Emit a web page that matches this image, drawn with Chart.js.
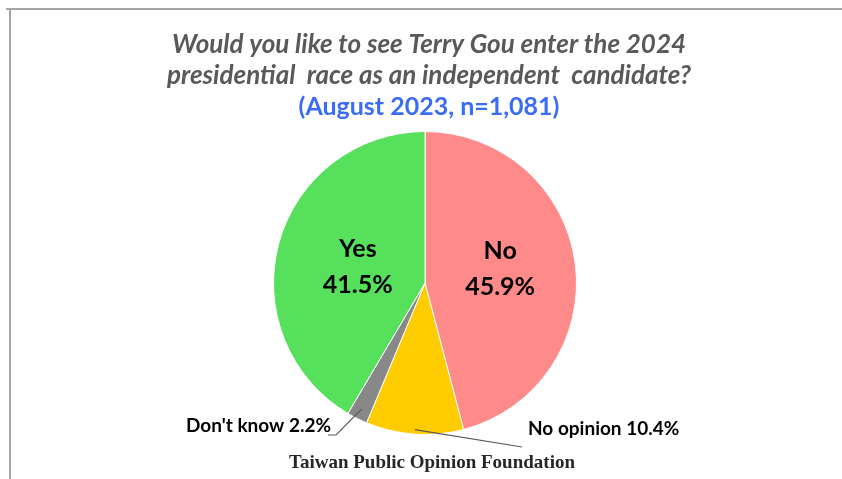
<!DOCTYPE html>
<html>
<head>
<meta charset="utf-8">
<script src="https://cdn.jsdelivr.net/npm/chart.js@4"></script>
<style>
  html, body { margin: 0; padding: 0; background: #fff; }
  #wrap { width: 842px; height: 479px; }
</style>
</head>
<body>
<div id="wrap"><canvas id="pieChart" width="842" height="479"></canvas></div>
<script>
const categories = ['No', 'No opinion', "Don't know", 'Yes'];
const shares = [45.9, 10.4, 2.2, 41.5];
const colors = ['#FF8A8A', '#FFCC00', '#888888', '#57E05B'];
const titleLines = [
    'Would you like to see Terry Gou enter the 2024',
    'presidential  race as an independent  candidate?'
];
const subtitle = '(August 2023, n=1,081)';
const source = 'Taiwan Public Opinion Foundation';

const sansFont = 'Lato, "Open Sans", sans-serif';

// titles, frame, slice labels and leader lines
const decorations = {
    id: 'decorations',
    afterDraw(chart) {
        const c = chart.ctx;
        c.save();

        // frame lines (top and left)
        c.strokeStyle = '#A6A6A6';
        c.lineWidth = 2;
        c.beginPath();
        c.moveTo(6, 9);
        c.lineTo(842, 9);
        c.moveTo(10, 9);
        c.lineTo(10, 479);
        c.stroke();

        c.textAlign = 'center';
        c.textBaseline = 'middle';
        c.fillStyle = '#595959';
        c.font = 'italic bold 26px ' + sansFont;
        c.fillText(titleLines[0], 429, 45);
        c.fillText(titleLines[1], 429, 76);
        c.fillStyle = '#3B6CF6';
        c.font = 'bold 25px ' + sansFont;
        c.fillText(subtitle, 429, 107);

        c.fillStyle = '#262626';
        c.font = 'bold 19px "Liberation Serif", serif';
        c.fillText(source, 432, 463);

        const arcs = chart.getDatasetMeta(0).data;
        const pos = (arc, frac) => {
            const mid = (arc.startAngle + arc.endAngle) / 2;
            const r = arc.outerRadius * frac;
            return { x: arc.x + Math.cos(mid) * r, y: arc.y + Math.sin(mid) * r };
        };

        // big inner labels
        c.fillStyle = '#000';
        c.font = 'bold 25px ' + sansFont;
        [[0, 0.5, 0], [3, 0.46, 6]].forEach(([i, f, dy]) => {
            const p = pos(arcs[i], f);
            c.fillText(categories[i], p.x, p.y - 22 + dy);
            c.fillText(shares[i].toFixed(1) + '%', p.x, p.y + 14 + dy);
        });

        // outside labels with leader lines
        c.strokeStyle = '#595959';
        c.lineWidth = 1.2;
        const dk = pos(arcs[2], 0.93);
        c.beginPath();
        c.moveTo(dk.x, dk.y);
        c.lineTo(336, 435);
        c.lineTo(328, 435);
        c.stroke();
        const no = pos(arcs[1], 0.97);
        c.beginPath();
        c.moveTo(no.x, no.y);
        c.lineTo(522, 447);
        c.stroke();

        c.font = 'bold 19px ' + sansFont;
        c.textAlign = 'right';
        c.fillText(categories[2] + ' ' + shares[2].toFixed(1) + '%', 331, 426);
        c.textAlign = 'left';
        c.fillText(categories[1] + ' ' + shares[1].toFixed(1) + '%', 528, 429);

        c.restore();
    }
};

const ctx = document.getElementById('pieChart').getContext('2d');

const pieChart = new Chart(ctx, {
    type: 'pie',
    data: {
        labels: categories,
        datasets: [{
            data: shares,
            backgroundColor: colors,
            borderColor: '#FFFFFF',
            borderWidth: 1
        }]
    },
    options: {
        responsive: false,
        animation: false,
        layout: {
            padding: { top: 131, bottom: 44, left: 273, right: 265 }
        },
        plugins: {
            legend: { display: false },
            tooltip: { enabled: false }
        }
    },
    plugins: [decorations]
});
</script>
</body>
</html>
